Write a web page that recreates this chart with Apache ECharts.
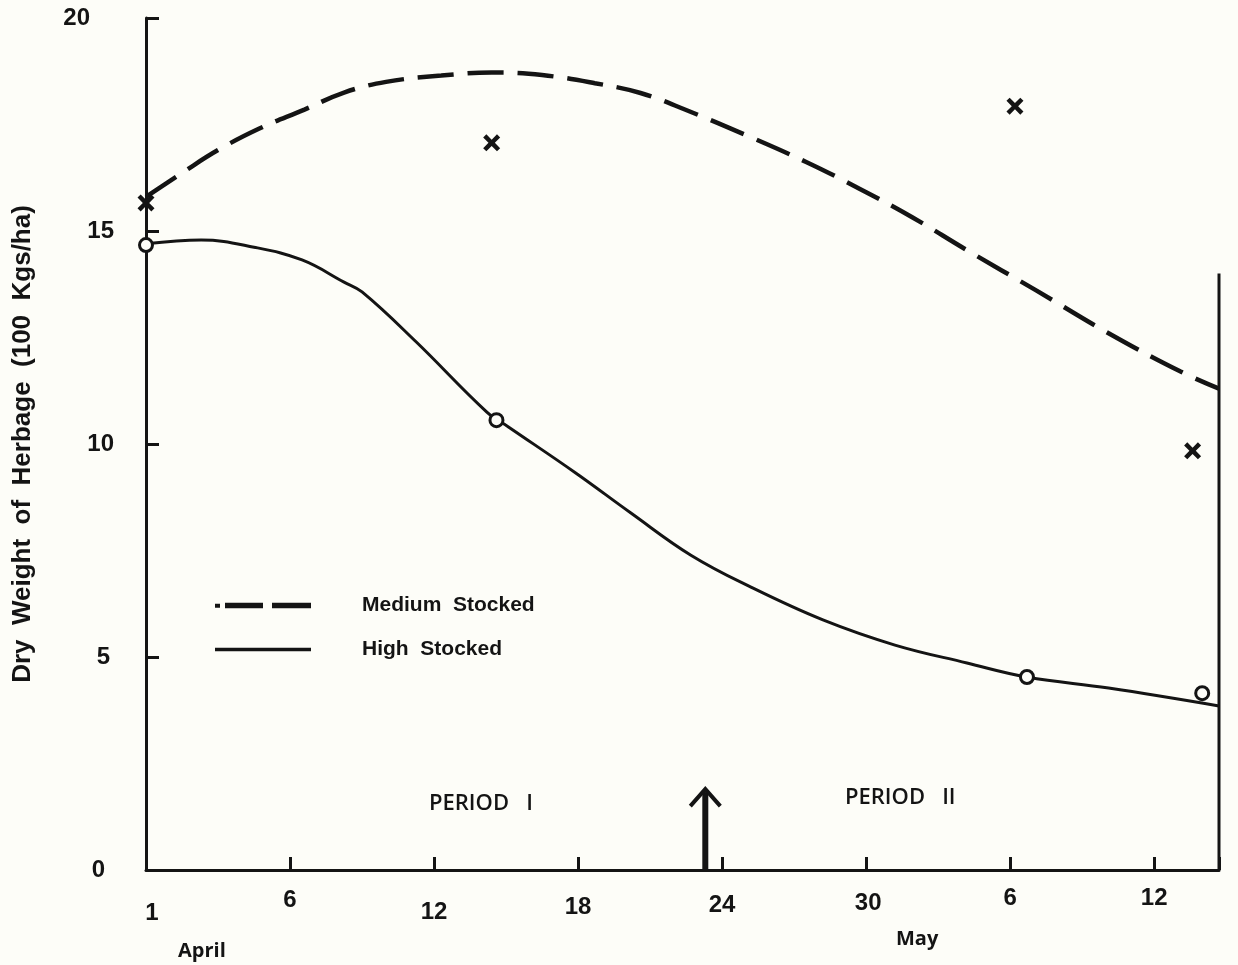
<!DOCTYPE html>
<html>
<head>
<meta charset="utf-8">
<script src="https://cdn.jsdelivr.net/npm/echarts@6/dist/echarts.min.js"></script>
<style>
  html, body { margin: 0; padding: 0; background: #fdfdf8; }
  #chart { width: 1238px; height: 965px; }
</style>
</head>
<body>
<div id="chart"></div>
<script>
// Days are counted from the origin of the time axis (labelled "1" April); May 6 falls on day 36.
const dayTicks = [0, 6, 12, 18, 24, 30, 36, 42];
const dayTickLabels = ['1', '6', '12', '18', '24', '30', '6', '12'];
const monthNames = ['April', 'May'];
const lastDay = 44.7;

// Fitted trend curves (day, dry weight in 100 kg/ha)
const mediumCurve = [
  [0, 15.8], [1.6, 16.4], [3, 16.9], [4.7, 17.4], [6.6, 17.85], [8.25, 18.25],
  [10, 18.5], [12.3, 18.65], [14.4, 18.72], [16.5, 18.66], [18.7, 18.47],
  [20.6, 18.24], [22.5, 17.84], [25.2, 17.2], [27.5, 16.62], [29.7, 16.0],
  [31.9, 15.33], [34.2, 14.55], [37.1, 13.6], [40.1, 12.6], [43.1, 11.7], [44.7, 11.3]
];
const highCurve = [
  [0, 14.7], [2.3, 14.79], [4.5, 14.62], [6.5, 14.32], [8.25, 13.8], [9, 13.57],
  [11.25, 12.4], [14.2, 10.75], [15.1, 10.4], [17.9, 9.32],
  [20.2, 8.38], [22.7, 7.39], [25.2, 6.64], [28.2, 5.87], [31.2, 5.28],
  [34.2, 4.86], [36.7, 4.53], [40.1, 4.27], [44.7, 3.85]
];

// Sampled herbage weights
const mediumObserved = [[0, 15.66], [14.4, 17.07], [36.2, 17.93], [43.6, 9.84]];
const highObserved = [[0, 14.67], [14.6, 10.56], [36.7, 4.53], [44.0, 4.15]];

// Change-over from period I to period II
const periodSplit = [[23.3, 1.9]];
const periodNames = ['PERIOD   I', 'PERIOD   II'];

// Right-hand frame line of the plot
const rightFrame = [[lastDay, 0], [lastDay, 14.0]];

const ink = '#141414';
const paper = '#fdfdf8';
const font = '"Liberation Sans", Arial, sans-serif';
const labelFont = '"Open Sans", sans-serif';

const crossPath = 'path://M0,3 L3,0 L8,5 L13,0 L16,3 L11,8 L16,13 L13,16 L8,11 L3,16 L0,13 L5,8 Z';

const chart = echarts.init(document.getElementById('chart'), null, { renderer: 'canvas' });

// Per-label offsets for the hand-set day numbers
const xRich = {};
const xPad = [[15, 0, 0, 12], [2, 0, 0, 0], [14, 0, 0, 0], [9, 0, 0, 0], [7, 0, 0, 0], [5, 0, 0, 4], [0, 0, 0, 0], [0, 0, 0, 0]];
dayTicks.forEach((d, i) => { xRich['t' + i] = { padding: xPad[i] }; });

const yPadRight = { 0: 9, 5: 4, 10: 0, 15: 0, 20: 24 };
const yRich = {};
Object.keys(yPadRight).forEach(k => { yRich['v' + k] = { padding: [0, yPadRight[k], 0, 0] }; });

chart.setOption({
  backgroundColor: paper,
  animation: false,
  grid: { left: 146, top: 18, right: 19, bottom: 95, containLabel: false },
  xAxis: {
    type: 'value', min: 0, max: lastDay, interval: 6,
    axisLine: { show: true, lineStyle: { color: ink, width: 3 } },
    axisTick: { show: true, inside: true, length: 13, lineStyle: { color: ink, width: 3 } },
    splitLine: { show: false },
    axisLabel: {
      margin: 16, color: ink, fontSize: 24, fontWeight: 'bold', fontFamily: font,
      formatter: v => {
        const i = dayTicks.indexOf(v);
        return i < 0 ? '' : '{t' + i + '|' + dayTickLabels[i] + '}';
      },
      rich: xRich
    }
  },
  yAxis: {
    type: 'value', min: 0, max: 20, interval: 5,
    name: 'Dry  Weight  of  Herbage  (100  Kgs/ha)',
    nameLocation: 'middle', nameGap: 110, nameRotate: 90,
    nameTextStyle: { color: ink, fontSize: 26, fontWeight: 'bold', fontFamily: font },
    axisLine: { show: true, lineStyle: { color: ink, width: 3 } },
    axisTick: { show: true, inside: true, length: 13, lineStyle: { color: ink, width: 3 } },
    splitLine: { show: false },
    axisLabel: {
      margin: 32, color: ink, fontSize: 24, fontWeight: 'bold', fontFamily: font,
      formatter: v => '{v' + v + '|' + v + '}',
      rich: yRich
    }
  },
  legend: {
    orient: 'vertical', left: 210, top: 590, itemWidth: 96, itemHeight: 6, itemGap: 23,
    selectedMode: false,
    textStyle: { color: ink, fontSize: 21, fontWeight: 'bold', fontFamily: font, padding: [0, 0, 0, 46] },
    data: [
      { name: 'Medium  Stocked', icon: 'path://M0,1.5 L5,1.5 L5,5.5 L0,5.5 Z M10,0.5 L48,0.5 L48,6 L10,6 Z M57,0.5 L96,0.5 L96,6 L57,6 Z', itemStyle: { color: ink, borderWidth: 0 } },
      { name: 'High  Stocked', icon: 'path://M0,0 L96,0 L96,3.5 L0,3.5 Z', itemStyle: { color: ink, borderWidth: 0 } }
    ]
  },
  series: [
    {
      name: 'Medium  Stocked', type: 'line', data: mediumCurve, smooth: 0.4, showSymbol: false,
      lineStyle: { color: ink, width: 4.5, type: [36, 14], cap: 'butt' }, z: 2
    },
    {
      name: 'High  Stocked', type: 'line', data: highCurve, smooth: 0.4, showSymbol: false,
      lineStyle: { color: ink, width: 3 }, z: 2
    },
    {
      name: 'frame', type: 'line', data: rightFrame, showSymbol: false,
      lineStyle: { color: ink, width: 3 }, z: 2
    },
    {
      name: 'medium samples', type: 'scatter', data: mediumObserved,
      symbol: crossPath, symbolSize: 17, itemStyle: { color: ink, opacity: 1 }, z: 5
    },
    {
      name: 'high samples', type: 'scatter', data: highObserved,
      symbol: 'circle', symbolSize: 13,
      itemStyle: { color: paper, borderColor: ink, borderWidth: 3, opacity: 1 }, z: 5
    },
    {
      name: 'period change', type: 'custom', data: periodSplit, z: 4,
      renderItem: (params, api) => {
        const base = api.coord([api.value(0), 0]);
        const tip = api.coord([api.value(0), api.value(1)]);
        return {
          type: 'group',
          children: [
            { type: 'line', shape: { x1: base[0], y1: base[1], x2: tip[0], y2: tip[1] + 3 },
              style: { stroke: ink, lineWidth: 6 } },
            { type: 'polyline',
              shape: { points: [[tip[0] - 15, tip[1] + 17], [tip[0], tip[1]], [tip[0] + 15, tip[1] + 17]] },
              style: { stroke: ink, lineWidth: 4, fill: null } }
          ]
        };
      }
    }
  ],
  graphic: [
    { type: 'text', left: 429, top: 793, style: { text: periodNames[0], fill: ink, fontSize: 22, fontWeight: 600, fontFamily: labelFont } },
    { type: 'text', left: 845, top: 787, style: { text: periodNames[1], fill: ink, fontSize: 22, fontWeight: 600, fontFamily: labelFont } },
    { type: 'text', left: 178, top: 941, style: { text: monthNames[0], fill: ink, fontSize: 20, fontWeight: 700, fontFamily: labelFont } },
    { type: 'text', left: 896, top: 929, style: { text: monthNames[1], fill: ink, fontSize: 20, fontWeight: 700, fontFamily: labelFont } }
  ]
});
</script>
</body>
</html>
